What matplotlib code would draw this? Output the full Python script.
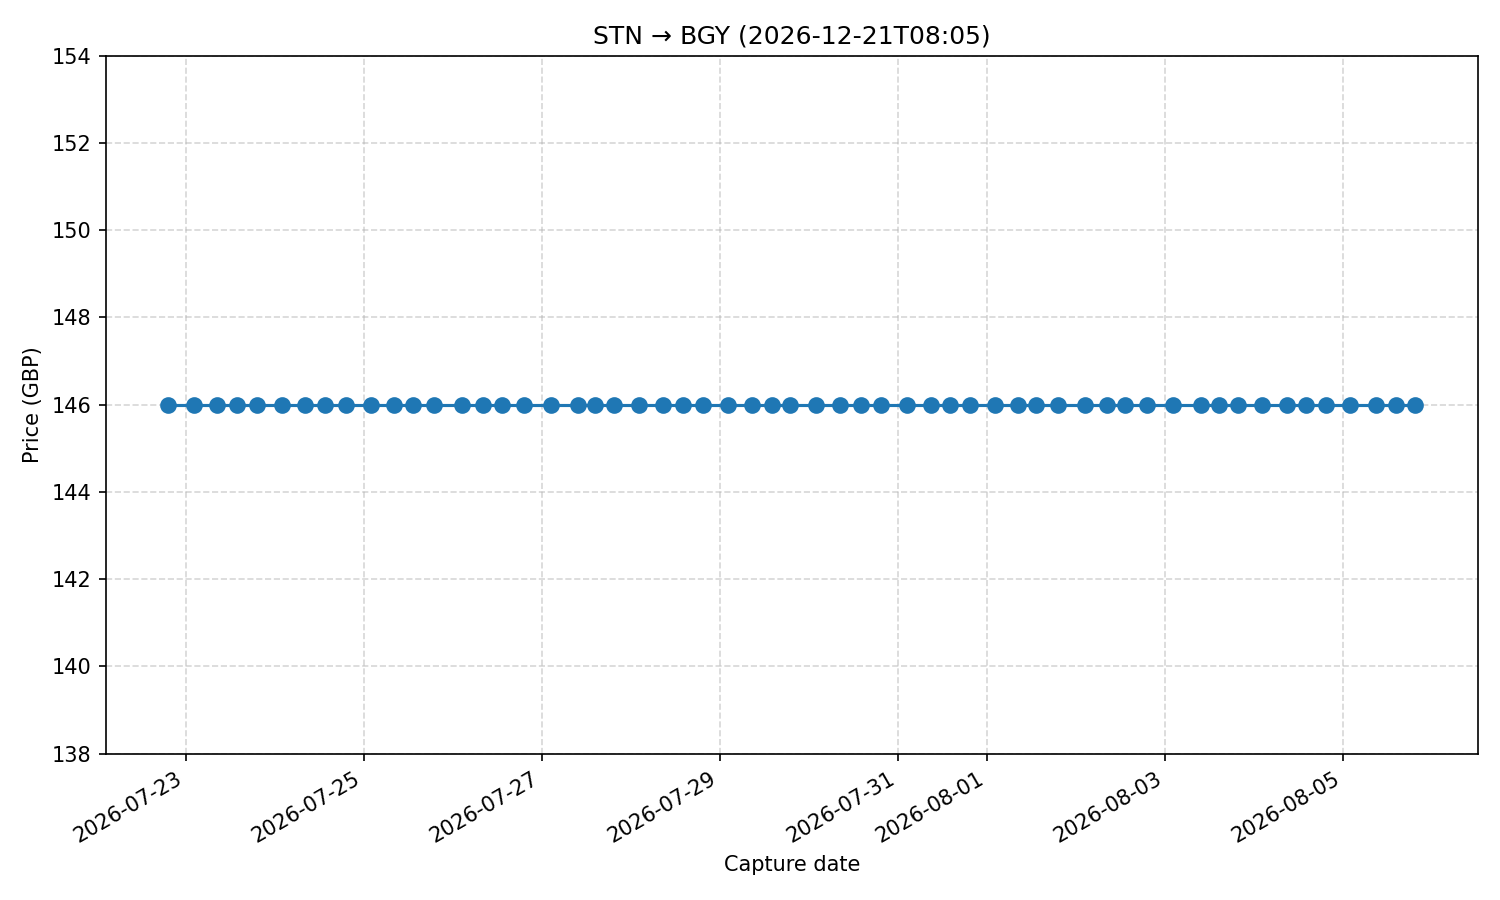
import matplotlib
matplotlib.use("Agg")
import matplotlib.pyplot as plt
import pandas as pd

# capture times and prices
capture_times = [
    "2026-07-22 19:18", "2026-07-23 02:13", "2026-07-23 08:32", "2026-07-23 13:55",
    "2026-07-23 19:19", "2026-07-24 02:04", "2026-07-24 08:12", "2026-07-24 13:30",
    "2026-07-24 19:20", "2026-07-25 02:05", "2026-07-25 08:12", "2026-07-25 13:25",
    "2026-07-25 19:00", "2026-07-26 02:24", "2026-07-26 08:12", "2026-07-26 13:12",
    "2026-07-26 19:18", "2026-07-27 02:30", "2026-07-27 09:42", "2026-07-27 14:24",
    "2026-07-27 19:24", "2026-07-28 02:06", "2026-07-28 08:36", "2026-07-28 14:00",
    "2026-07-28 19:24", "2026-07-29 02:06", "2026-07-29 08:36", "2026-07-29 14:00",
    "2026-07-29 19:00", "2026-07-30 01:48", "2026-07-30 08:18", "2026-07-30 13:54",
    "2026-07-30 19:30", "2026-07-31 02:18", "2026-07-31 08:48", "2026-07-31 14:00",
    "2026-07-31 19:18", "2026-08-01 02:06", "2026-08-01 08:24", "2026-08-01 13:12",
    "2026-08-01 19:12", "2026-08-02 02:24", "2026-08-02 08:24", "2026-08-02 13:12",
    "2026-08-02 19:00", "2026-08-03 02:12", "2026-08-03 09:42", "2026-08-03 14:36",
    "2026-08-03 19:30", "2026-08-04 02:00", "2026-08-04 08:48", "2026-08-04 14:00",
    "2026-08-04 19:24", "2026-08-05 01:54", "2026-08-05 08:48", "2026-08-05 14:12",
    "2026-08-05 19:24",
]
prices = [146] * len(capture_times)

dates = pd.to_datetime(capture_times)

fig, ax = plt.subplots(figsize=(10, 6), dpi=150)
ax.plot(dates, prices, marker="o", markersize=7)
ax.set_ylim(138, 154)
ax.set_title("STN \u2192 BGY (2026-12-21T08:05)")
ax.set_xlabel("Capture date")
ax.set_ylabel("Price (GBP)")
ax.grid(True, linestyle="--", alpha=0.5)
fig.autofmt_xdate()
fig.subplots_adjust(left=0.0705, right=0.9851, top=0.9381, bottom=0.1626)
fig.savefig("out.png", dpi=150)
